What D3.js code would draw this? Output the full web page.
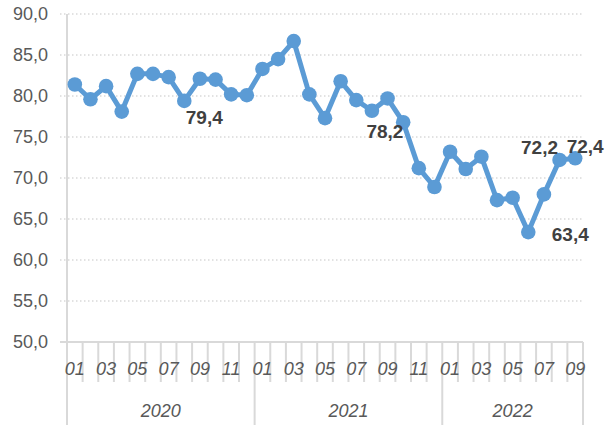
<!DOCTYPE html>
<html>
<head>
<meta charset="utf-8">
<script src="https://cdn.jsdelivr.net/npm/d3@7"></script>
<style>
  body { margin: 0; background: #fff; }
  svg { display: block; }
  text { font-family: "Liberation Sans", Arial, sans-serif; }
</style>
</head>
<body>
<div id="chart"></div>
<script>
// monthly values, 2020-01 .. 2022-09
let years = ["2020", "2021", "2022"];
let monthsPerYear = [12, 12, 9];
let values = [
  81.4, 79.6, 81.2, 78.1, 82.7, 82.7, 82.3, 79.4, 82.1, 82.0, 80.2, 80.1,
  83.3, 84.5, 86.7, 80.2, 77.3, 81.8, 79.5, 78.2, 79.7, 76.8, 71.2, 68.9,
  73.2, 71.1, 72.6, 67.3, 67.6, 63.4, 68.0, 72.2, 72.4
];
let labelled = [7, 19, 29, 31, 32];
let yTicks = [50, 55, 60, 65, 70, 75, 80, 85, 90];

let w = 605, h = 425;
let padLeft = 67, padRight = 583, padTop = 14, padBottom = 342;

// build month keys
let keys = [];
years.forEach(function(yr, j){
  for (let m = 1; m <= monthsPerYear[j]; m++) {
    keys.push(yr + "-" + (m < 10 ? "0" + m : "" + m));
  }
});
let data = values.map(function(v, i){ return { key: keys[i], value: v }; });

let comma = function(v){ return d3.format(".1f")(v).replace(".", ","); };

let viz = d3.select("#chart").append("svg")
    .attr("width", w)
    .attr("height", h)
;

let xScale = d3.scaleBand().domain(keys).range([padLeft, padRight]).padding(0);
let yScale = d3.scaleLinear().domain([50, 90]).range([padBottom, padTop]);
let bw = xScale.bandwidth();

// gridlines
viz.append("g").attr("class", "grid")
  .selectAll("line").data(yTicks.slice(1)).enter()
  .append("line")
    .attr("x1", padLeft - 7)
    .attr("x2", padRight)
    .attr("y1", function(d){ return yScale(d); })
    .attr("y2", function(d){ return yScale(d); })
    .attr("stroke", "#d9d9d9")
    .attr("stroke-width", 1.5)
    .attr("stroke-dasharray", "1.5,2.5")
;

// y axis labels
let yAxis = d3.axisLeft(yScale).tickValues(yTicks).tickFormat(comma).tickSize(0).tickPadding(19);
let yAxisGroup = viz.append("g")
    .attr("transform", "translate(" + padLeft + ",0)")
    .call(yAxis)
;
yAxisGroup.select(".domain").remove();
yAxisGroup.selectAll("text")
    .attr("font-size", "18px")
    .attr("font-family", "'Liberation Sans', Arial, sans-serif")
    .attr("fill", "#595959")
;

// axis lines
viz.append("line")
    .attr("x1", padLeft).attr("x2", padLeft)
    .attr("y1", padTop).attr("y2", h)
    .attr("stroke", "#d9d9d9").attr("stroke-width", 2);
viz.append("line")
    .attr("x1", padLeft - 7).attr("x2", padRight)
    .attr("y1", padBottom).attr("y2", padBottom)
    .attr("stroke", "#d9d9d9").attr("stroke-width", 2);

// month boundary ticks
let yearEnd = d3.cumsum(monthsPerYear);
let boundaries = d3.range(1, keys.length + 1);
viz.append("g").selectAll("line").data(boundaries).enter()
  .append("line")
    .attr("x1", function(d){ return padLeft + d * bw; })
    .attr("x2", function(d){ return padLeft + d * bw; })
    .attr("y1", padBottom)
    .attr("y2", function(d){ return yearEnd.indexOf(d) >= 0 ? h : 382; })
    .attr("stroke", "#d9d9d9")
    .attr("stroke-width", 2)
;

// month labels
let xAxis = d3.axisBottom(xScale)
    .tickValues(keys.filter(function(k){ return (+k.slice(5)) % 2 == 1; }))
    .tickFormat(function(k){ return k.slice(5); })
    .tickSize(0)
    .tickPadding(0);
let xAxisGroup = viz.append("g")
    .attr("transform", "translate(0," + padBottom + ")")
    .call(xAxis)
;
xAxisGroup.select(".domain").remove();
xAxisGroup.selectAll("text")
    .attr("y", 33)
    .attr("dy", 0)
    .attr("font-size", "18px")
    .attr("font-style", "italic")
    .attr("font-family", "'Liberation Sans', Arial, sans-serif")
    .attr("fill", "#595959")
;

// year labels
let starts = [0].concat(Array.from(yearEnd));
viz.append("g").selectAll("text").data(years).enter()
  .append("text")
    .text(function(d){ return d; })
    .attr("x", function(d, i){ return padLeft + (starts[i] + starts[i + 1]) / 2 * bw; })
    .attr("y", 417)
    .attr("text-anchor", "middle")
    .attr("font-size", "18px")
    .attr("font-style", "italic")
    .attr("fill", "#595959")
;

// line + markers
let cx = function(d){ return xScale(d.key) + bw / 2; };
let cy = function(d){ return yScale(d.value); };
let line = d3.line().x(cx).y(cy);

viz.append("path")
    .datum(data)
    .attr("d", line)
    .attr("fill", "none")
    .attr("stroke", "#5b9bd5")
    .attr("stroke-width", 5)
    .attr("stroke-linejoin", "round")
;
viz.append("g").selectAll("circle").data(data).enter()
  .append("circle")
    .attr("cx", cx)
    .attr("cy", cy)
    .attr("r", 7.3)
    .attr("fill", "#5b9bd5")
;

// data labels
let offsets = { 7: [20, 23], 19: [13, 27], 29: [42, 9], 31: [-20, -6], 32: [10, -5] };
viz.append("g").selectAll("text").data(labelled).enter()
  .append("text")
    .text(function(i){ return comma(values[i]); })
    .attr("x", function(i){ return cx(data[i]) + offsets[i][0]; })
    .attr("y", function(i){ return cy(data[i]) + offsets[i][1]; })
    .attr("text-anchor", "middle")
    .attr("font-size", "19px")
    .attr("font-weight", "bold")
    .attr("fill", "#404040")
;
</script>
</body>
</html>
